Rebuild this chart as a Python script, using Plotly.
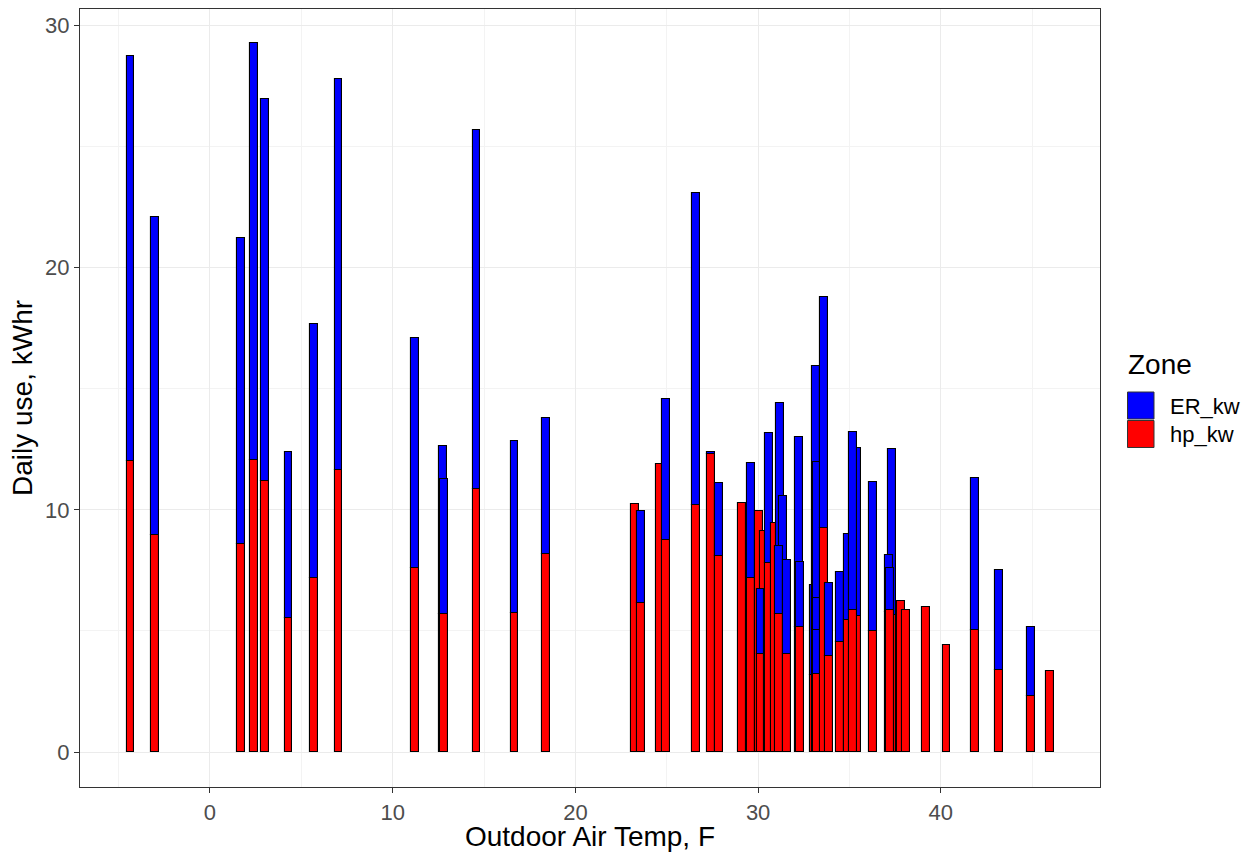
import plotly.graph_objects as go

# Daily records: outdoor air temp (F), heat-pump kWh, electric-resistance kWh
temp_f = [-4.35, -3.0, 1.70, 2.42, 3.03, 4.30, 5.71, 7.04, 11.24, 12.77, 12.80, 14.59,
          16.67, 18.40, 23.25, 23.60, 24.65, 24.94, 26.60, 27.42, 27.84, 29.10, 29.63,
          30.05, 30.30, 30.13, 30.58, 30.90, 31.20, 31.35, 31.15, 31.60, 32.26, 32.28,
          33.05, 33.15, 33.20, 33.20, 33.20, 33.60, 33.90, 34.48, 34.90, 35.40, 35.20,
          36.30, 37.35, 37.16, 37.23, 37.80, 38.09, 39.18, 40.31, 41.86, 43.19, 44.93,
          45.95]
hp_kw = [12.0, 8.95, 8.6, 12.05, 11.17, 5.53, 7.17, 11.64, 7.6, 5.68, 5.68, 10.84,
         5.76, 8.16, 10.25, 6.17, 11.88, 8.77, 10.19, 12.30, 8.11, 10.30, 7.18,
         9.95, 9.12, 4.06, 7.80, 9.46, 6.0, 4.78, 5.72, 4.03, 5.15, 5.15,
         3.2, 3.2, 3.23, 0.0, 0.0, 9.25, 3.98, 4.55, 5.47, 5.63, 5.88,
         4.98, 5.64, 5.79, 5.88, 6.23, 5.88, 5.98, 4.41, 5.06, 3.40, 2.32,
         3.33]
er_kw = [16.75, 13.12, 12.6, 17.21, 15.78, 6.85, 10.49, 16.13, 9.5, 6.96, 5.59, 14.85,
         7.09, 5.62, 0.0, 3.78, 0.0, 5.82, 12.89, 0.10, 3.01, 0.0, 4.74,
         0.0, 0.0, 2.68, 5.37, 0.0, 8.39, 5.78, 2.77, 3.89, 7.85, 2.71,
         3.68, 12.75, 1.83, 1.30, 5.60, 9.55, 3.0, 2.89, 3.53, 6.92, 7.32,
         6.15, 6.85, 2.33, 1.73, 0.0, 0.0, 0.0, 0.0, 6.27, 4.11, 2.85,
         0.0]

zones = ["ER_kw", "hp_kw"]
zone_colors = {"ER_kw": "#0000FF", "hp_kw": "#FF0000"}

x_ticks = [0, 10, 20, 30, 40]
y_ticks = [0, 10, 20, 30]

BAR_W = 0.43
fig = go.Figure()

# position_stack-like offsets for records sharing the same temperature
hp_total = {}
for t, h in zip(temp_f, hp_kw):
    hp_total[t] = hp_total.get(t, 0.0) + h
red_cum = {}
blue_cum = {}

for t, h, e in zip(temp_f, hp_kw, er_kw):
    rb = red_cum.get(t, 0.0)
    red_cum[t] = rb + h
    bb = hp_total[t] + blue_cum.get(t, 0.0)
    blue_cum[t] = blue_cum.get(t, 0.0) + e
    if h > 0:
        fig.add_trace(go.Bar(x=[t], y=[h], base=[rb], width=BAR_W,
                             marker=dict(color=zone_colors["hp_kw"],
                                         line=dict(color="black", width=1.1)),
                             showlegend=False, hoverinfo="x+y"))
    if e > 0:
        fig.add_trace(go.Bar(x=[t], y=[e], base=[bb], width=BAR_W,
                             marker=dict(color=zone_colors["ER_kw"],
                                         line=dict(color="black", width=1.1)),
                             showlegend=False, hoverinfo="x+y"))

L, R, T, B = 80, 153, 9, 65
W, H = 1253, 852
pw, ph = W - L - R, H - T - B


def px(xp):
    return (xp - L) / pw


def py(yp):
    return (H - B - yp) / ph


shapes = []
annotations = []
# manual legend (ggplot style)
annotations.append(dict(text="Zone", x=px(1126), y=py(364), xref="paper", yref="paper",
                        xanchor="left", yanchor="middle", showarrow=False,
                        font=dict(size=28, color="black")))
key_top = 392
for i, z in enumerate(zones):
    y0 = key_top + i * 28.5
    shapes.append(dict(type="rect", xref="paper", yref="paper",
                       x0=px(1127.5), x1=px(1154), y0=py(y0), y1=py(y0 + 27),
                       fillcolor=zone_colors[z], line=dict(color="#333333", width=1)))
    annotations.append(dict(text=z, x=px(1168), y=py(y0 + 14), xref="paper", yref="paper",
                            xanchor="left", yanchor="middle", showarrow=False,
                            font=dict(size=22, color="black")))

axis_common = dict(
    showgrid=True, gridcolor="#EBEBEB", gridwidth=1.2,
    zeroline=False, showline=True, mirror=True, linecolor="#333333", linewidth=1.3,
    ticks="outside", ticklen=5, tickwidth=1.1, tickcolor="#333333",
    tickfont=dict(size=22, color="#4D4D4D"), automargin=False,
)

fig.update_layout(
    width=W, height=H,
    barmode="overlay",
    plot_bgcolor="white", paper_bgcolor="white",
    margin=dict(l=L, r=R, t=T, b=B),
    font=dict(family="Liberation Sans, Arial, sans-serif"),
    showlegend=False,
    bargap=0,
    shapes=shapes,
    annotations=annotations,
    xaxis=dict(range=[-7.11, 48.71], tickvals=x_ticks,
               minor=dict(dtick=5, tick0=0, showgrid=True, gridcolor="#F3F3F3",
                          gridwidth=0.7, ticklen=0),
               title=dict(text="Outdoor Air Temp, F", font=dict(size=28, color="black"),
                          standoff=4),
               **axis_common),
    yaxis=dict(range=[-1.44, 30.67], tickvals=y_ticks,
               minor=dict(dtick=5, tick0=0, showgrid=True, gridcolor="#F3F3F3",
                          gridwidth=0.7, ticklen=0),
               title=dict(text="Daily use, kWhr", font=dict(size=28, color="black"),
                          standoff=4),
               **axis_common),
)

fig.write_html("out.html")
